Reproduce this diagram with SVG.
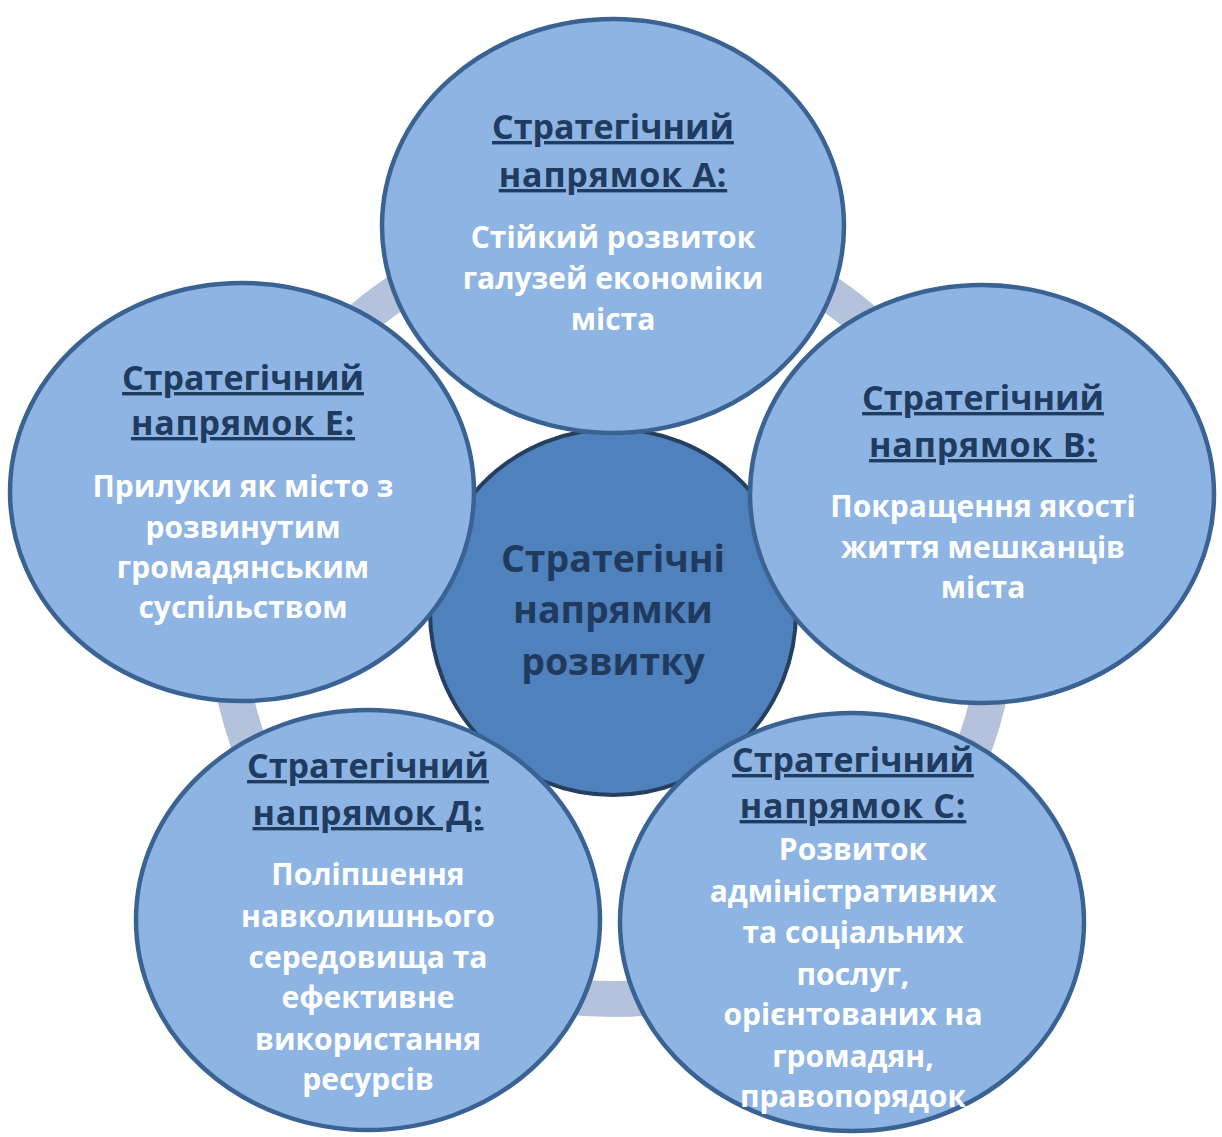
<svg xmlns="http://www.w3.org/2000/svg" width="1222" height="1137" viewBox="0 0 1222 1137">
  <style>
    .ring { fill: none; stroke: #B4C2DC; stroke-width: 36; }
    .hub { fill: #4F81BD; stroke: #243F60; stroke-width: 4; }
    .node { fill: #8EB4E3; stroke: #3A6394; stroke-width: 4.5; }
    text { font-family: "Open Sans", "Noto Sans", "DejaVu Sans", sans-serif; font-weight: bold; text-anchor: middle; }
    .hubt { font-size: 37.5px; fill: #203A5E; }
    .head { font-size: 34px; fill: #1F3B60; text-decoration: underline; text-decoration-thickness: 3px; text-underline-offset: 4px; }
    .h2 { letter-spacing: 0.8px; }
    .body { font-size: 30px; fill: #FFFFFF; }
  </style>
  <rect width="1222" height="1137" fill="#FFFFFF"/>
  <g id="connectors">
    <circle class="ring" cx="612" cy="613" r="386"/>
  </g>
  <g id="center">
    <circle class="hub" cx="613" cy="612" r="183"/>
    <text class="hubt" x="613" y="572">Стратегічні</text>
    <text class="hubt" x="613" y="623">напрямки</text>
    <text class="hubt" x="613" y="675">розвитку</text>
  </g>
  <g id="nodeA">
    <ellipse class="node" cx="613" cy="226" rx="231" ry="207"/>
    <text class="head" x="613" y="139">Стратегічний</text>
    <text class="head h2" x="613" y="187">напрямок А:</text>
    <text class="body" x="613" y="248">Стійкий розвиток</text>
    <text class="body" x="613" y="289">галузей економіки</text>
    <text class="body" x="613" y="330">міста</text>
  </g>
  <g id="nodeB">
    <ellipse class="node" cx="982" cy="494" rx="232" ry="209"/>
    <text class="head" x="983" y="410">Стратегічний</text>
    <text class="head h2" x="983" y="457">напрямок В:</text>
    <text class="body" x="983" y="517">Покращення якості</text>
    <text class="body" x="983" y="558">життя мешканців</text>
    <text class="body" x="983" y="598">міста</text>
  </g>
  <g id="nodeC">
    <ellipse class="node" cx="852" cy="922" rx="232" ry="209"/>
    <text class="head" x="853" y="772">Стратегічний</text>
    <text class="head h2" x="853" y="818">напрямок С:</text>
    <text class="body" x="853" y="860">Розвиток</text>
    <text class="body" x="853" y="902">адміністративних</text>
    <text class="body" x="853" y="943">та соціальних</text>
    <text class="body" x="853" y="985">послуг,</text>
    <text class="body" x="853" y="1025">орієнтованих на</text>
    <text class="body" x="853" y="1067">громадян,</text>
    <text class="body" x="853" y="1107">правопорядок</text>
  </g>
  <g id="nodeD">
    <ellipse class="node" cx="368" cy="920" rx="232" ry="210"/>
    <text class="head" x="368" y="778">Стратегічний</text>
    <text class="head h2" x="368" y="825">напрямок Д:</text>
    <text class="body" x="368" y="885">Поліпшення</text>
    <text class="body" x="368" y="927">навколишнього</text>
    <text class="body" x="368" y="968">середовища та</text>
    <text class="body" x="368" y="1008">ефективне</text>
    <text class="body" x="368" y="1050">використання</text>
    <text class="body" x="368" y="1090">ресурсів</text>
  </g>
  <g id="nodeE">
    <ellipse class="node" cx="242" cy="492" rx="232" ry="209"/>
    <text class="head" x="243" y="390">Стратегічний</text>
    <text class="head h2" x="243" y="435">напрямок Е:</text>
    <text class="body" x="243" y="497">Прилуки як місто з</text>
    <text class="body" x="243" y="538">розвинутим</text>
    <text class="body" x="243" y="578">громадянським</text>
    <text class="body" x="243" y="618">суспільством</text>
  </g>
</svg>
